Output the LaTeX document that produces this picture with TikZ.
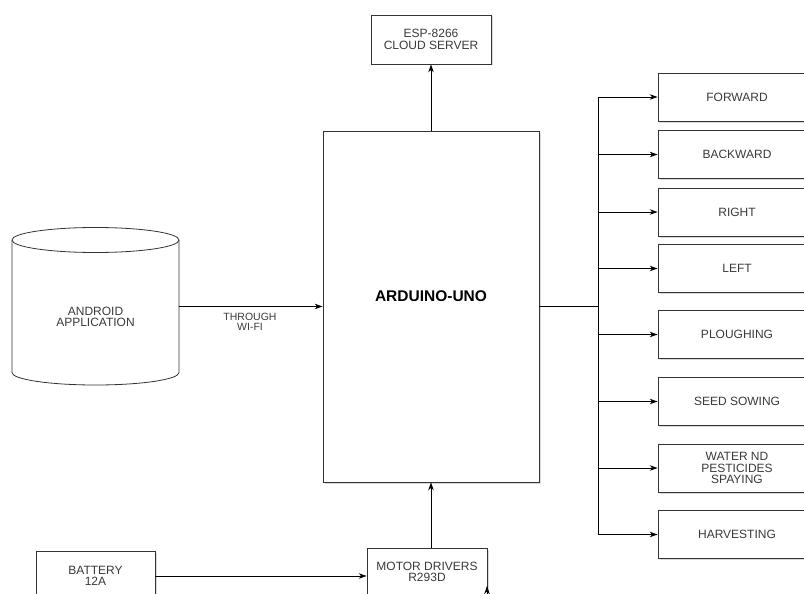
\documentclass[tikz,border=0pt]{standalone}
\usepackage{fontspec}
\setmainfont{Liberation Sans}
\usetikzlibrary{arrows.meta,shadows}

\definecolor{linegray}{HTML}{333333}
\definecolor{textgray}{HTML}{3A3A3A}

\tikzset{
    block/.style={draw=linegray, fill=white, line width=0.8pt, align=center,
        text=textgray, font=\fontsize{12}{11.5}\selectfont,
        drop shadow={shadow xshift=1.5pt, shadow yshift=-1.5pt, opacity=0.3}},
    opbox/.style={block, minimum width=158pt, minimum height=48pt},
    arrow/.style={-{Stealth[length=8pt,width=5.5pt]}, line width=0.8pt, draw=black},
    wire/.style={line width=0.8pt, draw=black}
}

\begin{document}
\begin{tikzpicture}[x=1pt, y=-1pt]
    \clip (0,0) rectangle (804,594);

    % Controller
    \node[block, minimum width=216pt, minimum height=351pt, text depth=20pt,
        font=\bfseries\fontsize{15.5}{15.5}\selectfont, text=black] (ard) at (431,306.5) {ARDUINO-UNO};

    % Cloud
    \node[block, minimum width=120pt, minimum height=49pt] (esp) at (431,39.5) {ESP-8266\\CLOUD SERVER};
    \draw[arrow] (ard.north) -- (esp.south);

    % Android app (cylinder)
    \node[minimum width=167pt, minimum height=136pt, outer sep=0pt, align=center,
        text=textgray, font=\fontsize{12}{11.5}\selectfont] (app) at (95.5,317) {ANDROID\\APPLICATION};
    \draw[linegray, line width=0.8pt] ([yshift=9pt]app.north) ellipse [x radius=83.5pt, y radius=12.5pt];
    \draw[linegray, line width=0.8pt] ([yshift=9pt]app.north west) -- ([yshift=12.5pt]app.south west)
        arc[start angle=180, end angle=360, x radius=83.5pt, y radius=12.5pt] -- ([yshift=9pt]app.north east);
    \node[align=center, text=textgray, font=\fontsize{10.5}{10.5}\selectfont] (wifi) at (250,322) {THROUGH\\WI-FI};
    \draw[arrow] (app.east |- ard.west) -- (ard.west);

    % Power
    \node[block, minimum width=119pt, minimum height=50pt] (bat) at (95.5,576) {BATTERY\\12A};
    \node[block, minimum width=120pt, minimum height=48pt] (motor) at (427,572) {MOTOR DRIVERS\\R293D};
    \draw[arrow] (bat.east) -- (bat.east -| motor.west);
    \draw[arrow] (motor.north -| ard.south) -- (ard.south);
    \coordinate (mdin) at (487,600);
    \coordinate (mdtip) at (487,586);
    \draw[arrow] (mdin) -- (mdtip);

    % Operations
    \coordinate (bus) at (598,306.5);
    \draw[wire] (ard.east) -- (bus);
    \foreach \name/\ypos/\txt in {fwd/97/FORWARD, bwd/154.5/BACKWARD, rgt/212/RIGHT, lft/268.5/LEFT,
        plough/334.5/PLOUGHING, seed/401.5/SEED SOWING, water/468/{WATER ND\\PESTICIDES\\SPAYING},
        harv/534.5/HARVESTING}
    {
        \node[opbox] (\name) at (737,\ypos) {\txt};
        \draw[arrow] (\name.west -| bus) -- (\name.west);
    }
    \draw[wire] (fwd.west -| bus) -- (harv.west -| bus);
\end{tikzpicture}
\end{document}
